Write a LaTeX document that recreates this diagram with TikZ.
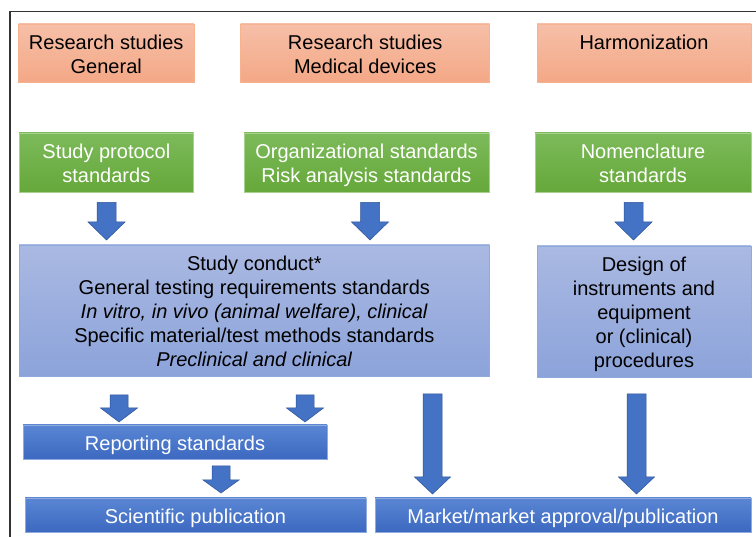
\documentclass[tikz,border=0pt]{standalone}
\usepackage{fontspec}
\setmainfont{Liberation Sans}
\definecolor{orTop}{HTML}{F6BFA8}
\definecolor{orBot}{HTML}{F4A886}
\definecolor{orLine}{HTML}{F7B38F}
\definecolor{grTop}{HTML}{7CBA5A}
\definecolor{grBot}{HTML}{66A83A}
\definecolor{grLine}{HTML}{A9D18E}
\definecolor{lbTop}{HTML}{AAB9E2}
\definecolor{lbBot}{HTML}{8CA3DA}
\definecolor{lbLine}{HTML}{8FAADC}
\definecolor{dbTop}{HTML}{5A86D4}
\definecolor{dbBot}{HTML}{3C69C0}
\definecolor{dbLine}{HTML}{8FAADC}
\definecolor{arFill}{HTML}{4472C4}
\definecolor{arLine}{HTML}{2F5597}
\newcommand\tstrut{\rule{0pt}{24pt}}
\newcommand\bstrut{\rule[-7.2pt]{0pt}{7.2pt}}
\tikzset{
  base/.style={rectangle, inner sep=0pt, align=center,
    font=\fontsize{20}{24}\selectfont},
  orbox/.style={base, top color=orTop, bottom color=orBot, draw=orLine, line width=0.8pt, text=black},
  grbox/.style={base, top color=grTop, bottom color=grBot, draw=grLine, line width=0.8pt, text=white},
  lbbox/.style={base, top color=lbTop, bottom color=lbBot, draw=lbLine, line width=0.8pt, text=black},
  dbbox/.style={base, top color=dbTop, bottom color=dbBot, draw=dbLine, line width=0.8pt, text=white},
  blockarrow/.style={fill=arFill, draw=arLine, line width=0.5pt, line join=miter},
  frameline/.style={draw=black!80, line width=1.2pt}
}
\newcommand\blockdown[6]{%
  \filldraw[blockarrow] (#1-#5,#2) -- (#1+#5,#2) -- (#1+#5,#3) -- (#1+#6,#3)
    -- (#1,#4) -- (#1-#6,#3) -- (#1-#5,#3) -- cycle;}
\begin{document}
\begin{tikzpicture}[x=1pt,y=-1pt]
\useasboundingbox (0,0) rectangle (756,537);
\fill[white] (0,0) rectangle (756,537);
\draw[frameline] (10,540) -- (10,11.5) -- (760,11.5);

% top row
\node[orbox, minimum width=175.5pt, minimum height=58pt] (o1) at (106.25,53) {\tstrut Research studies\\General\bstrut};
\node[orbox, minimum width=249pt, minimum height=58pt] (o2) at (365.2,53) {\tstrut Research studies\\Medical devices\bstrut};
\node[orbox, minimum width=214pt, minimum height=58pt] (o3) at (644,53) {\tstrut Harmonization\\\bstrut};

% green row
\node[grbox, minimum width=174.7pt, minimum height=59pt] (g1) at (106.35,162.5) {\tstrut Study protocol\\standards\bstrut};
\node[grbox, minimum width=245pt, minimum height=59pt] (g2) at (366.5,162.5) {\tstrut Organizational standards\\Risk analysis standards\bstrut};
\node[grbox, minimum width=216pt, minimum height=59pt] (g3) at (643,162.5) {\tstrut Nomenclature\\standards\bstrut};

% light blue row
\node[lbbox, minimum width=470.7pt, minimum height=131pt] (sc) at (254.35,310.5)
  {\tstrut Study conduct*\\General testing requirements standards\\\textit{In vitro, in vivo (animal welfare), clinical}\\Specific material/test methods standards\\\textit{Preclinical and clinical}\bstrut};
\node[lbbox, minimum width=214pt, minimum height=131pt] (de) at (644,311.5)
  {\tstrut Design of\\instruments and\\equipment\\or (clinical)\\procedures\bstrut};

% dark blue boxes
\node[dbbox, minimum width=304pt, minimum height=34pt] (rep) at (175,442) {\tstrut Reporting standards\bstrut};
\node[dbbox, minimum width=341pt, minimum height=34pt] (sci) at (195.5,515) {\tstrut Scientific publication\bstrut};
\node[dbbox, minimum width=376pt, minimum height=34pt] (mkt) at (563,515) {\tstrut Market/market approval/publication\bstrut};

% block arrows
\blockdown{106.5}{202.5}{222}{240}{9.5}{18.5}
\blockdown{370}{202.5}{222}{240}{9.5}{18.5}
\blockdown{633.5}{202.5}{222}{240}{9.5}{18.5}
\blockdown{119}{395}{408}{422}{9}{18.5}
\blockdown{305}{395}{408}{422}{9}{18.5}
\blockdown{221}{466}{480}{493}{9}{18}
\blockdown{432.5}{394}{477}{494}{9.5}{18}
\blockdown{636.5}{394}{477}{494}{9.5}{18}
\end{tikzpicture}
\end{document}
